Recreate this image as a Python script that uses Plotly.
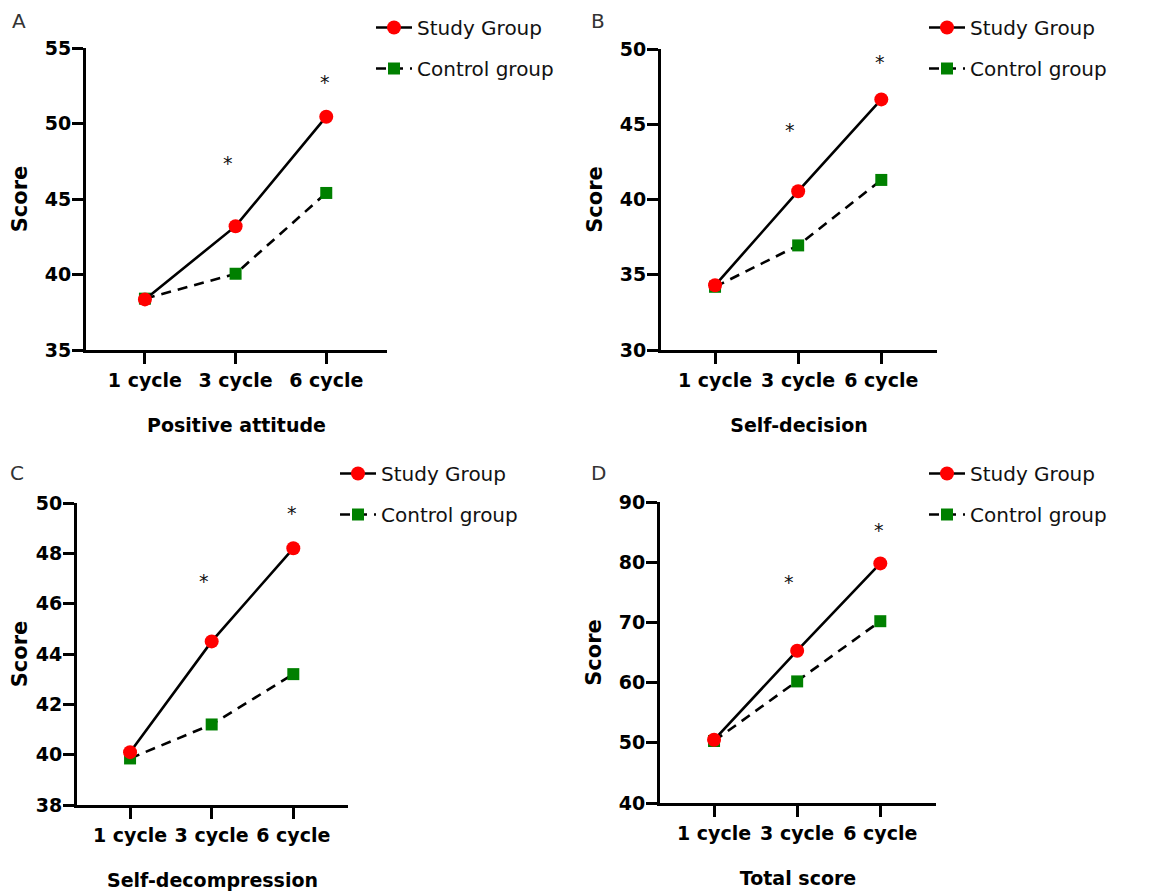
import plotly.graph_objects as go

# page body adds an 8px margin; the figure is sized to fill the rest of the window
OFF = 8
W, H = 1153 - OFF, 892 - OFF

cycles = ["1 cycle", "3 cycle", "6 cycle"]
series_names = ["Study Group", "Control group"]

# Panel A - Positive attitude
study_A = [38.35, 43.2, 50.45]
control_A = [38.4, 40.05, 45.4]
stars_A = [47.5, 52.9]

# Panel B - Self-decision
study_B = [34.3, 40.55, 46.65]
control_B = [34.2, 36.95, 41.3]
stars_B = [44.75, 49.3]

# Panel C - Self-decompression
study_C = [40.1, 44.5, 48.2]
control_C = [39.85, 41.2, 43.2]
stars_C = [47.0, 49.7]

# Panel D - Total score
study_D = [50.5, 65.3, 79.8]
control_D = [50.3, 60.2, 70.2]
stars_D = [77.0, 85.7]

x_titles = ["Positive attitude", "Self-decision", "Self-decompression", "Total score"]
letters = ["A", "B", "C", "D"]
y_ranges = [[35, 55], [30, 50], [38, 50], [40, 90]]
y_dticks = [5, 5, 2, 10]

# layout geometry (window pixels)
panel_px = [(86, 387), (661, 937), (77, 348), (660, 936)]
panel_py = [(48, 350), (49, 350), (503, 805), (502, 803)]
letter_px = [(11, 8), (590, 8), (9, 460), (590, 460)]
legend_px = [(371, 0), (924, 0), (335, 454), (924, 454)]

studies = [study_A, study_B, study_C, study_D]
controls = [control_A, control_B, control_C, control_D]
stars = [stars_A, stars_B, stars_C, stars_D]

FONT = "DejaVu Sans"
RED = "#FF0000"
GREEN = "#008000"


def fx(px):
    return (px - OFF) / W


def fy(py):
    return 1 - (py - OFF) / H


fig = go.Figure()
layout = dict(
    width=W, height=H,
    margin=dict(l=0, r=0, t=0, b=0, pad=0, autoexpand=False),
    paper_bgcolor="white", plot_bgcolor="white",
    font=dict(family=FONT, color="#000"),
    annotations=[],
)

for i in range(4):
    n = "" if i == 0 else str(i + 1)
    xa, ya = "x" + n, "y" + n
    leg = "legend" + n
    # control first so study markers sit on top
    fig.add_trace(go.Scatter(
        x=cycles, y=controls[i], name=series_names[1], xaxis=xa, yaxis=ya,
        mode="lines+markers", legend=leg, legendrank=2, legendgroup="c" + n,
        line=dict(color="black", width=2.6, dash="10px,7px"),
        marker=dict(symbol="square", size=12, color=GREEN),
        cliponaxis=False,
    ))
    fig.add_trace(go.Scatter(
        x=cycles, y=studies[i], name=series_names[0], xaxis=xa, yaxis=ya,
        mode="lines+markers", legend=leg, legendrank=1, legendgroup="s" + n,
        line=dict(color="black", width=2.6),
        marker=dict(symbol="circle", size=14, color=RED),
        cliponaxis=False,
    ))

    x0, x1 = panel_px[i]
    y0, y1 = panel_py[i]
    axis_common = dict(
        showline=True, linewidth=3, linecolor="black",
        ticks="outside", ticklen=11, tickwidth=3, tickcolor="black",
        showgrid=False, zeroline=False, automargin=False,
        tickfont=dict(family=FONT, size=19, color="#000", weight="bold"),
    )
    layout["xaxis" + n] = dict(
        axis_common, type="category", range=[-0.65, 2.67],
        domain=[fx(x0), fx(x1)], anchor=ya,
        title=dict(text=x_titles[i], standoff=29,
                   font=dict(family=FONT, size=19, color="#000", weight="bold")),
    )
    layout["yaxis" + n] = dict(
        axis_common, range=y_ranges[i], dtick=y_dticks[i],
        domain=[fy(y1), fy(y0)], anchor=xa,
        ticklabelstandoff=-3,
        title=dict(text="Score", standoff=12,
                   font=dict(family=FONT, size=21, color="#000", weight="bold")),
    )
    lx, ly = legend_px[i]
    layout[leg] = dict(
        x=fx(lx), y=min(1, fy(ly)), xanchor="left", yanchor="top",
        bgcolor="rgba(0,0,0,0)", borderwidth=0,
        font=dict(family=FONT, size=20, color="#111"),
        traceorder="grouped", tracegroupgap=12, itemwidth=36,
    )
    # significance asterisks above 3 cycle and 6 cycle
    for k, cat in enumerate(cycles[1:]):
        layout["annotations"].append(dict(
            x=cat, y=stars[i][k], xref=xa, yref=ya, text="*", showarrow=False,
            xshift=-8 if k == 0 else -1, yshift=-2,
            font=dict(family=FONT, size=19, color="#111"),
        ))
    px, py = letter_px[i]
    layout["annotations"].append(dict(
        x=fx(px), y=min(1, fy(py)), xref="paper", yref="paper", text=letters[i],
        showarrow=False, xanchor="left", yanchor="top", borderpad=0,
        font=dict(family=FONT, size=20, color="#333"),
    ))

fig.update_layout(**layout)
fig.write_html("out.html")
